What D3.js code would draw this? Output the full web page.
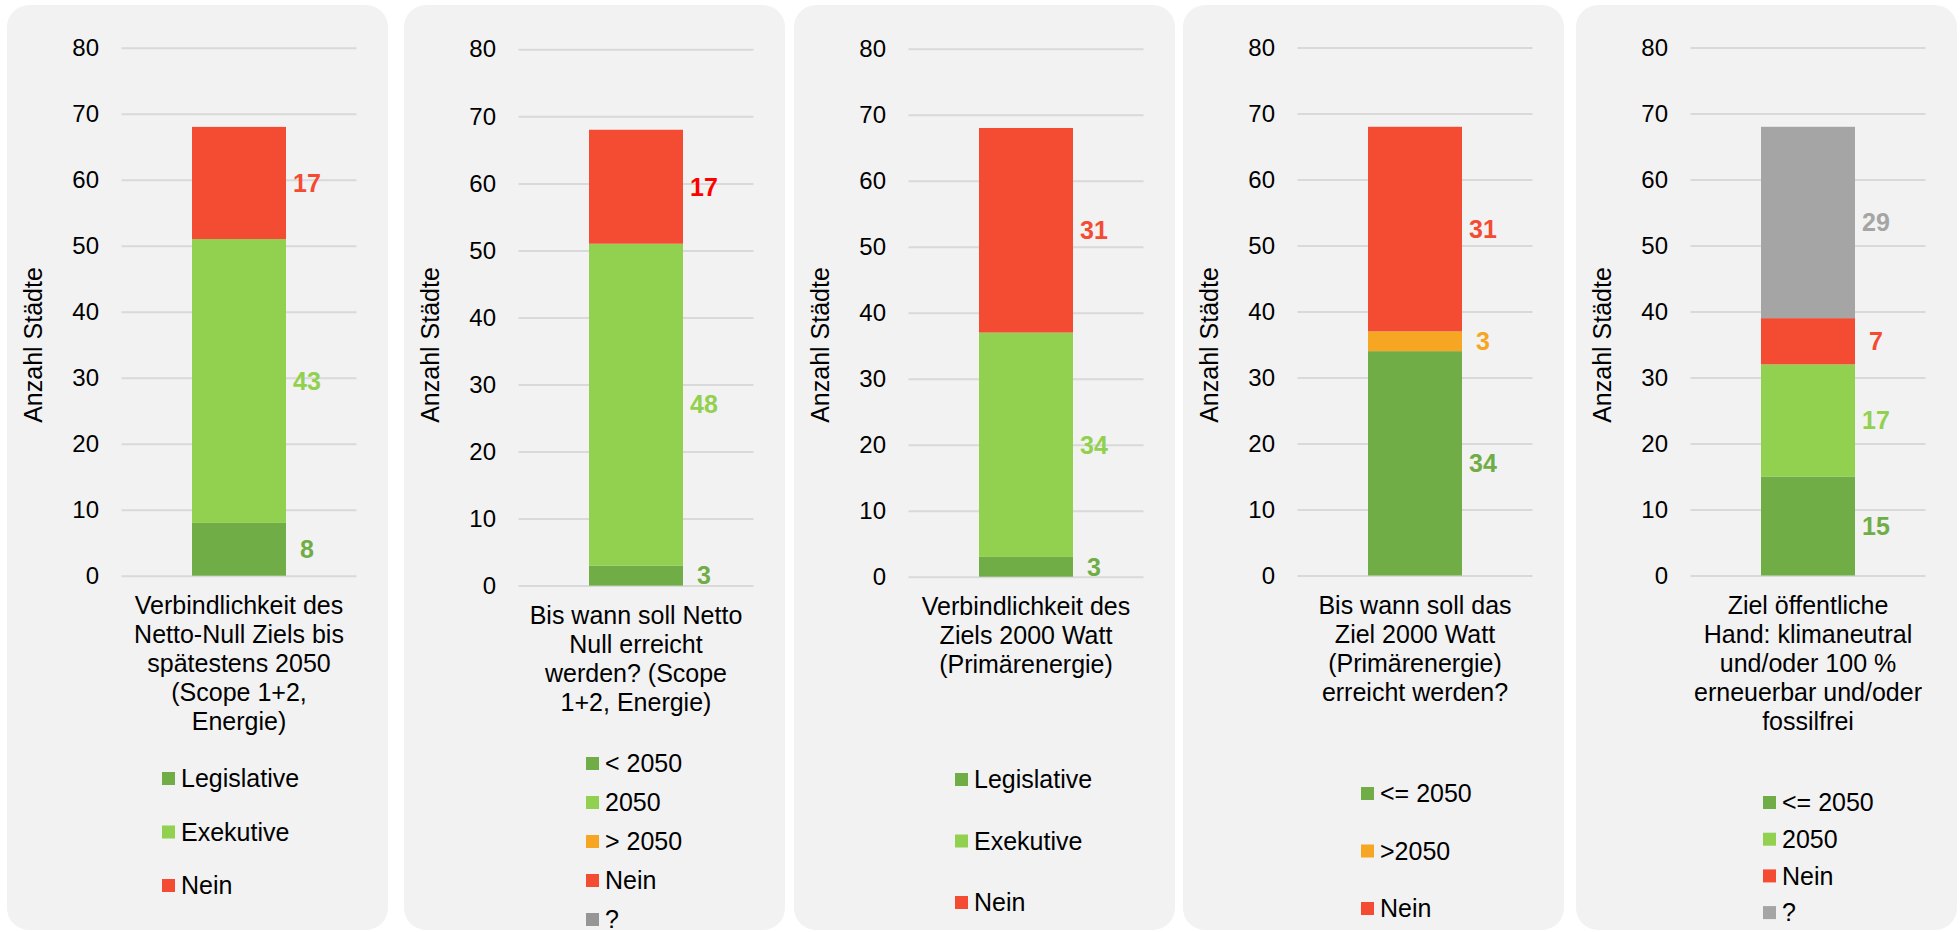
<!DOCTYPE html>
<html><head><meta charset="utf-8">
<script src="https://cdn.jsdelivr.net/npm/d3@7/dist/d3.min.js"></script>
<style>
body{margin:0;background:#fff}
svg{display:block}
text{font-family:"Liberation Sans", Arial, Helvetica, sans-serif}
</style>
</head><body>
<svg id="chart" width="1960" height="932"></svg>
<script>
// ---------- DATA ----------
const categories = [
  ["Verbindlichkeit des", "Netto-Null Ziels bis", "spätestens 2050", "(Scope 1+2,", "Energie)"],
  ["Bis wann soll Netto", "Null erreicht", "werden? (Scope", "1+2, Energie)"],
  ["Verbindlichkeit des", "Ziels 2000 Watt", "(Primärenergie)"],
  ["Bis wann soll das", "Ziel 2000 Watt", "(Primärenergie)", "erreicht werden?"],
  ["Ziel öffentliche", "Hand: klimaneutral", "und/oder 100 %", "erneuerbar und/oder", "fossilfrei"]
];
const seriesNames = [
  ["Legislative", "Exekutive", "Nein"],
  ["< 2050", "2050", "> 2050", "Nein", "?"],
  ["Legislative", "Exekutive", "Nein"],
  ["<= 2050", ">2050", "Nein"],
  ["<= 2050", "2050", "Nein", "?"]
];
const seriesValues = [
  [8, 43, 17],
  [3, 48, 0, 17, 0],
  [3, 34, 31],
  [34, 3, 31],
  [15, 17, 7, 29]
];
const yTicks = [0, 10, 20, 30, 40, 50, 60, 70, 80];
const yMax = 80;
const axisTitle = "Anzahl Städte";

// ---------- STYLES ----------
const C = {dg:"#70AD47", lg:"#92D050", or:"#F6A623", rd:"#F44B33", gy:"#A5A5A5", gy2:"#969696", red:"#FF0000"};
const seriesColors = [
  [C.dg, C.lg, C.rd],
  [C.dg, C.lg, C.or, C.rd, C.gy2],
  [C.dg, C.lg, C.rd],
  [C.dg, C.or, C.rd],
  [C.dg, C.lg, C.rd, C.gy]
];
const labelColors = [
  [C.dg, C.lg, C.rd],
  [C.dg, C.lg, C.or, C.red, C.gy2],
  [C.dg, C.lg, C.rd],
  [C.dg, C.or, C.rd],
  [C.dg, C.lg, C.rd, C.gy]
];

// ---------- LAYOUT ----------
const panelX = [7, 404, 794, 1183, 1576];
const panelW = 381, panelTop = 5, panelH = 925;
const plotTop = [47.7, 49.3, 48.8, 47.6, 47.6];
const plotBottom = [575.7, 585.6, 576.7, 575.5, 575.5];
const gridOffset = 114.5, gridW = 235;
const legendX = [162, 586, 955, 1361, 1763];
const legendY0 = [778.5, 763.5, 779.5, 793.5, 802.5];
const legendStep = [53.5, 39, 61.5, 57.5, 36.7];

const svg = d3.select("#chart");

categories.forEach((catLines, i) => {
  const px = panelX[i];
  const g = svg.append("g");
  g.append("rect").attr("x", px).attr("y", panelTop).attr("width", panelW).attr("height", panelH)
    .attr("rx", 22).attr("ry", 22).attr("fill", "#F2F2F2");

  const gx = px + gridOffset;
  const y = d3.scaleLinear().domain([0, yMax]).range([plotBottom[i], plotTop[i]]);
  const catKey = catLines.join(" ");
  const pad = 0.6 / 1.4;
  const x = d3.scaleBand().domain([catKey]).range([gx, gx + gridW]).paddingInner(pad).paddingOuter(pad);

  // axis + gridlines
  const axis = d3.axisLeft(y).tickValues(yTicks).tickSize(-gridW).tickPadding(22.5).tickFormat(d3.format("d"));
  const ag = g.append("g").attr("transform", `translate(${gx},0)`).call(axis);
  ag.select(".domain").remove();
  ag.selectAll(".tick line").attr("stroke", "#D9D9D9").attr("stroke-width", 2);
  ag.selectAll(".tick text").attr("fill", "#000").attr("font-size", 24)
    .style("font-family", '"Liberation Sans", Arial, sans-serif');

  // stacked bar
  const row = {cat: catKey};
  seriesNames[i].forEach((n, k) => row[n] = seriesValues[i][k]);
  const stacked = d3.stack().keys(seriesNames[i])([row]);
  stacked.forEach((s, k) => {
    const d = s[0];
    if (d[1] - d[0] <= 0) return;
    g.append("rect")
      .attr("x", x(catKey)).attr("width", x.bandwidth())
      .attr("y", y(d[1])).attr("height", y(d[0]) - y(d[1]))
      .attr("fill", seriesColors[i][k]);
  });
  // data labels
  stacked.forEach((s, k) => {
    const d = s[0];
    const v = d[1] - d[0];
    if (v <= 0) return;
    g.append("text")
      .attr("x", x(catKey) + x.bandwidth() + 21)
      .attr("y", y((d[0] + d[1]) / 2) + 0.355 * 25)
      .attr("text-anchor", "middle").attr("font-size", 25).attr("font-weight", "bold")
      .attr("fill", labelColors[i][k]).text(v);
  });

  // category label
  const ct = g.append("text").attr("text-anchor", "middle").attr("font-size", 25).attr("fill", "#000");
  catLines.forEach((ln, j) => {
    ct.append("tspan").attr("x", gx + gridW / 2).attr("y", plotBottom[i] + 38.5 + j * 29).text(ln);
  });

  // axis title
  g.append("text").attr("transform", `translate(${px + 35},345) rotate(-90)`)
    .attr("text-anchor", "middle").attr("font-size", 25).attr("fill", "#000").text(axisTitle);

  // legend
  seriesNames[i].forEach((n, k) => {
    const cy = legendY0[i] + k * legendStep[i];
    g.append("rect").attr("x", legendX[i]).attr("y", cy - 6.5).attr("width", 13).attr("height", 13)
      .attr("fill", seriesColors[i][k]);
    g.append("text").attr("x", legendX[i] + 19).attr("y", cy + 0.35 * 25)
      .attr("font-size", 25).attr("fill", "#000").text(n);
  });
});
</script>
</body></html>
